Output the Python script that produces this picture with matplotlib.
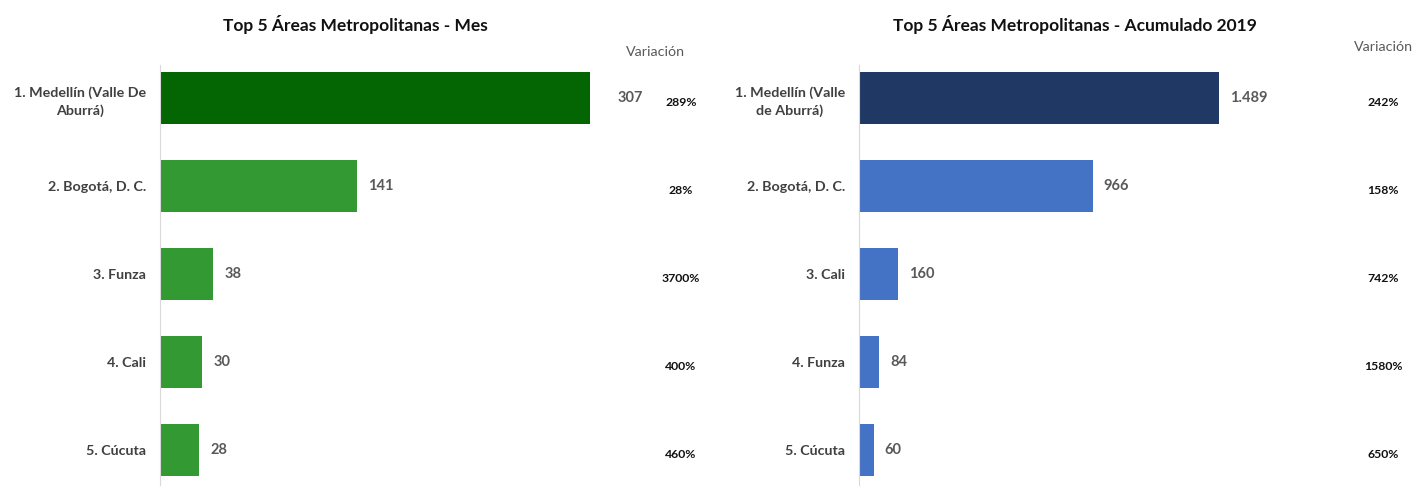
import matplotlib
matplotlib.use("Agg")
import matplotlib.pyplot as plt

plt.rcParams['font.family'] = ['Lato', 'DejaVu Sans']

# Data
mes_labels = ["1. Medellín (Valle De\nAburrá)", "2. Bogotá, D. C.", "3. Funza", "4. Cali", "5. Cúcuta"]
mes_values = [307, 141, 38, 30, 28]
mes_var = ["289%", "28%", "3700%", "400%", "460%"]

acum_labels = ["1. Medellín (Valle\nde Aburrá)", "2. Bogotá, D. C.", "3. Cali", "4. Funza", "5. Cúcuta"]
acum_values = [1489, 966, 160, 84, 60]
acum_var = ["242%", "158%", "742%", "1580%", "650%"]

W, H = 1428, 487
fig = plt.figure(figsize=(W / 100, H / 100), dpi=100)


def draw_panel(rect, labels, values, var, colors, title, xmax, title_x, var_x, var_hdr,
               fmt, first_pad):
    ax = fig.add_axes(rect)
    y = list(range(len(values)))
    ax.barh(y, values, height=0.59, color=colors)
    ax.set_ylim(len(values) - 0.6, -0.38)
    ax.set_xlim(0, xmax)
    ax.set_yticks(y)
    ax.set_yticklabels(labels, fontsize=10.3, fontweight='bold', color='#404040',
                       multialignment='center', linespacing=1.5)
    ax.tick_params(axis='y', length=0, pad=10)
    ax.set_xticks([])
    for s in ['top', 'right', 'bottom']:
        ax.spines[s].set_visible(False)
    ax.spines['left'].set_color('#d9d9d9')
    for i, v in enumerate(values):
        pad = first_pad if i == 0 else 8
        ax.annotate(fmt(v), (v, i), xytext=(pad, 0), textcoords='offset points',
                    va='center', ha='left', fontsize=10.5, fontweight='bold', color='#595959')
        ax.text(var_x, i + 0.05, var[i], transform=ax.get_yaxis_transform(),
                ha='center', va='center', fontsize=8.8, fontweight='bold', color='#111111')
    fig.text(title_x, 1 - 25 / H, title, ha='center', va='center', fontsize=12.5,
             fontweight='bold', color='#111111')
    fig.text(var_hdr[0], var_hdr[1], "Variación", ha='center', va='center', fontsize=10.3,
             color='#595959')
    return ax


bottom = 2 / H
height = (485 - 65) / H

# Left panel: pixel width 540, 1.4 px per unit
draw_panel([160 / W, bottom, 540 / W, height], mes_labels, mes_values, mes_var,
           ['#036603'] + ['#339933'] * 4,
           "Top 5 Áreas Metropolitanas - Mes", 540 / 1.4, 355 / W, 521 / 540,
           (655 / W, 1 - 52 / H), lambda v: f"{v}", 20)

# Right panel: pixel width 561, 0.2418 px per unit
draw_panel([859 / W, bottom, 561 / W, height], acum_labels, acum_values, acum_var,
           ['#203864'] + ['#4472C4'] * 4,
           "Top 5 Áreas Metropolitanas - Acumulado 2019", 561 / 0.2418, 1075 / W, 524 / 561,
           (1383 / W, 1 - 47 / H), lambda v: f"{v:,}".replace(",", "."), 8)

fig.savefig("out.png", dpi=100, facecolor='white')
